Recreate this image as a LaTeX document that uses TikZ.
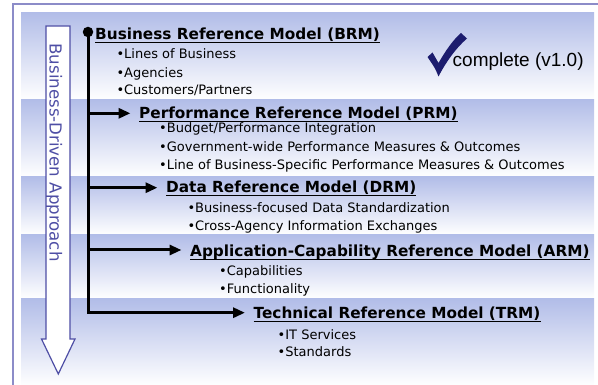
\documentclass[tikz,border=0pt]{standalone}
\usepackage{fontspec}
\setmainfont{DejaVu Sans}
\newfontfamily\arialf{Liberation Sans}
\usetikzlibrary{arrows.meta}
\definecolor{bandblue}{RGB}{178,189,232}
\definecolor{framec}{RGB}{140,140,200}
\definecolor{arrowc}{RGB}{78,78,165}
\definecolor{checkc}{RGB}{28,28,110}
\begin{document}
\begin{tikzpicture}[x=1pt,y=-1pt,
  band/.style={top color=bandblue,bottom color=white,draw=none},
  title/.style={anchor=base west,inner sep=0pt,font=\bfseries\fontsize{15.3}{18}\selectfont},
  item/.style={anchor=base west,inner sep=0pt,font=\fontsize{13}{15}\selectfont},
  trunk/.style={line width=3pt,black},
  branch/.style={line width=3pt,black,-{Triangle[length=12pt,width=10pt]},shorten >=8.5pt},
  uline/.style={line width=1.3pt,black}]
\useasboundingbox (0,0) rectangle (598,385);
% bands
\shade[band] (21,13) rectangle (594,100);
\shade[band] (21,100) rectangle (594,177);
\shade[band] (21,177) rectangle (594,235);
\shade[band] (21,235) rectangle (594,299);
\shade[band] (21,299) rectangle (594,386);
% frame
\draw[framec,line width=1.5pt] (13,387) -- (13,4) -- (600,4);
% vertical approach arrow
\draw[arrowc,fill=white,line width=1.2pt,line join=miter]
  (46,26) -- (70,26) -- (70,339) -- (75,339) -- (58.3,374) -- (41.5,339) -- (46,339) -- cycle;
\node[rotate=-90,anchor=base,inner sep=0pt,text=arrowc,font=\fontsize{16.6}{20}\selectfont]
  (approach) at (49.5,152.5) {Business-Driven Approach};
% titles
\node[title] (brm) at (95,40) {Business Reference Model (BRM)};
\node[title] (prm) at (139,119) {Performance Reference Model (PRM)};
\node[title] (drm) at (166,193) {Data Reference Model (DRM)};
\node[title] (arm) at (190,257) {Application-Capability Reference Model (ARM)};
\node[title] (trm) at (253.5,319) {Technical Reference Model (TRM)};
\foreach \n in {brm,prm,drm,arm,trm}
  \draw[uline] ([yshift=-2.2pt]\n.base west) -- ([yshift=-2.2pt]\n.base east);
% items
\node[item] (b1) at (116.3,59) {•Lines of Business};
\node[item] (b2) at (116.3,77.5) {•Agencies};
\node[item] (b3) at (116.3,95) {•Customers/Partners};
\node[item] (p1) at (159,133) {•Budget/Performance Integration};
\node[item] (p2) at (159,151.5) {•Government-wide Performance Measures \& Outcomes};
\node[item] (p3) at (159,170) {•Line of Business-Specific Performance Measures \& Outcomes};
\node[item] (d1) at (187.3,213) {•Business-focused Data Standardization};
\node[item] (d2) at (187.3,230.7) {•Cross-Agency Information Exchanges};
\node[item] (a1) at (219,276) {•Capabilities};
\node[item] (a2) at (219,294) {•Functionality};
\node[item] (t1) at (277.5,339) {•IT Services};
\node[item] (t2) at (277.5,356.7) {•Standards};
% trunk and branches
\node[circle,fill=black,inner sep=0pt,minimum size=10.5pt] (root) at (88,32) {};
\coordinate (j2) at (88,113.3);
\coordinate (j3) at (88,187.7);
\coordinate (j4) at (88,250);
\coordinate (j5) at (88,312.7);
\draw[branch,line join=miter] (root.center) -- (j5) -- (j5 -| trm.west);
\draw[branch] (j2) -- (j2 -| prm.west);
\draw[branch] (j3) -- (j3 -| drm.west);
\draw[branch] (j4) -- (j4 -| arm.west);
% complete mark
\fill[checkc] (427.5,57) .. controls (429.5,54.5) .. (432.5,52.5)
  -- (438.5,63) .. controls (446,50) and (453,40) .. (461,33)
  -- (467,38.5) .. controls (456,48) and (446,62) .. (438.5,76.5)
  .. controls (435,68) .. cycle;
\node[anchor=base west,inner sep=0pt,font=\arialf\fontsize{19}{22}\selectfont]
  (done) at (452.5,66.5) {complete (v1.0)};
\end{tikzpicture}
\end{document}
